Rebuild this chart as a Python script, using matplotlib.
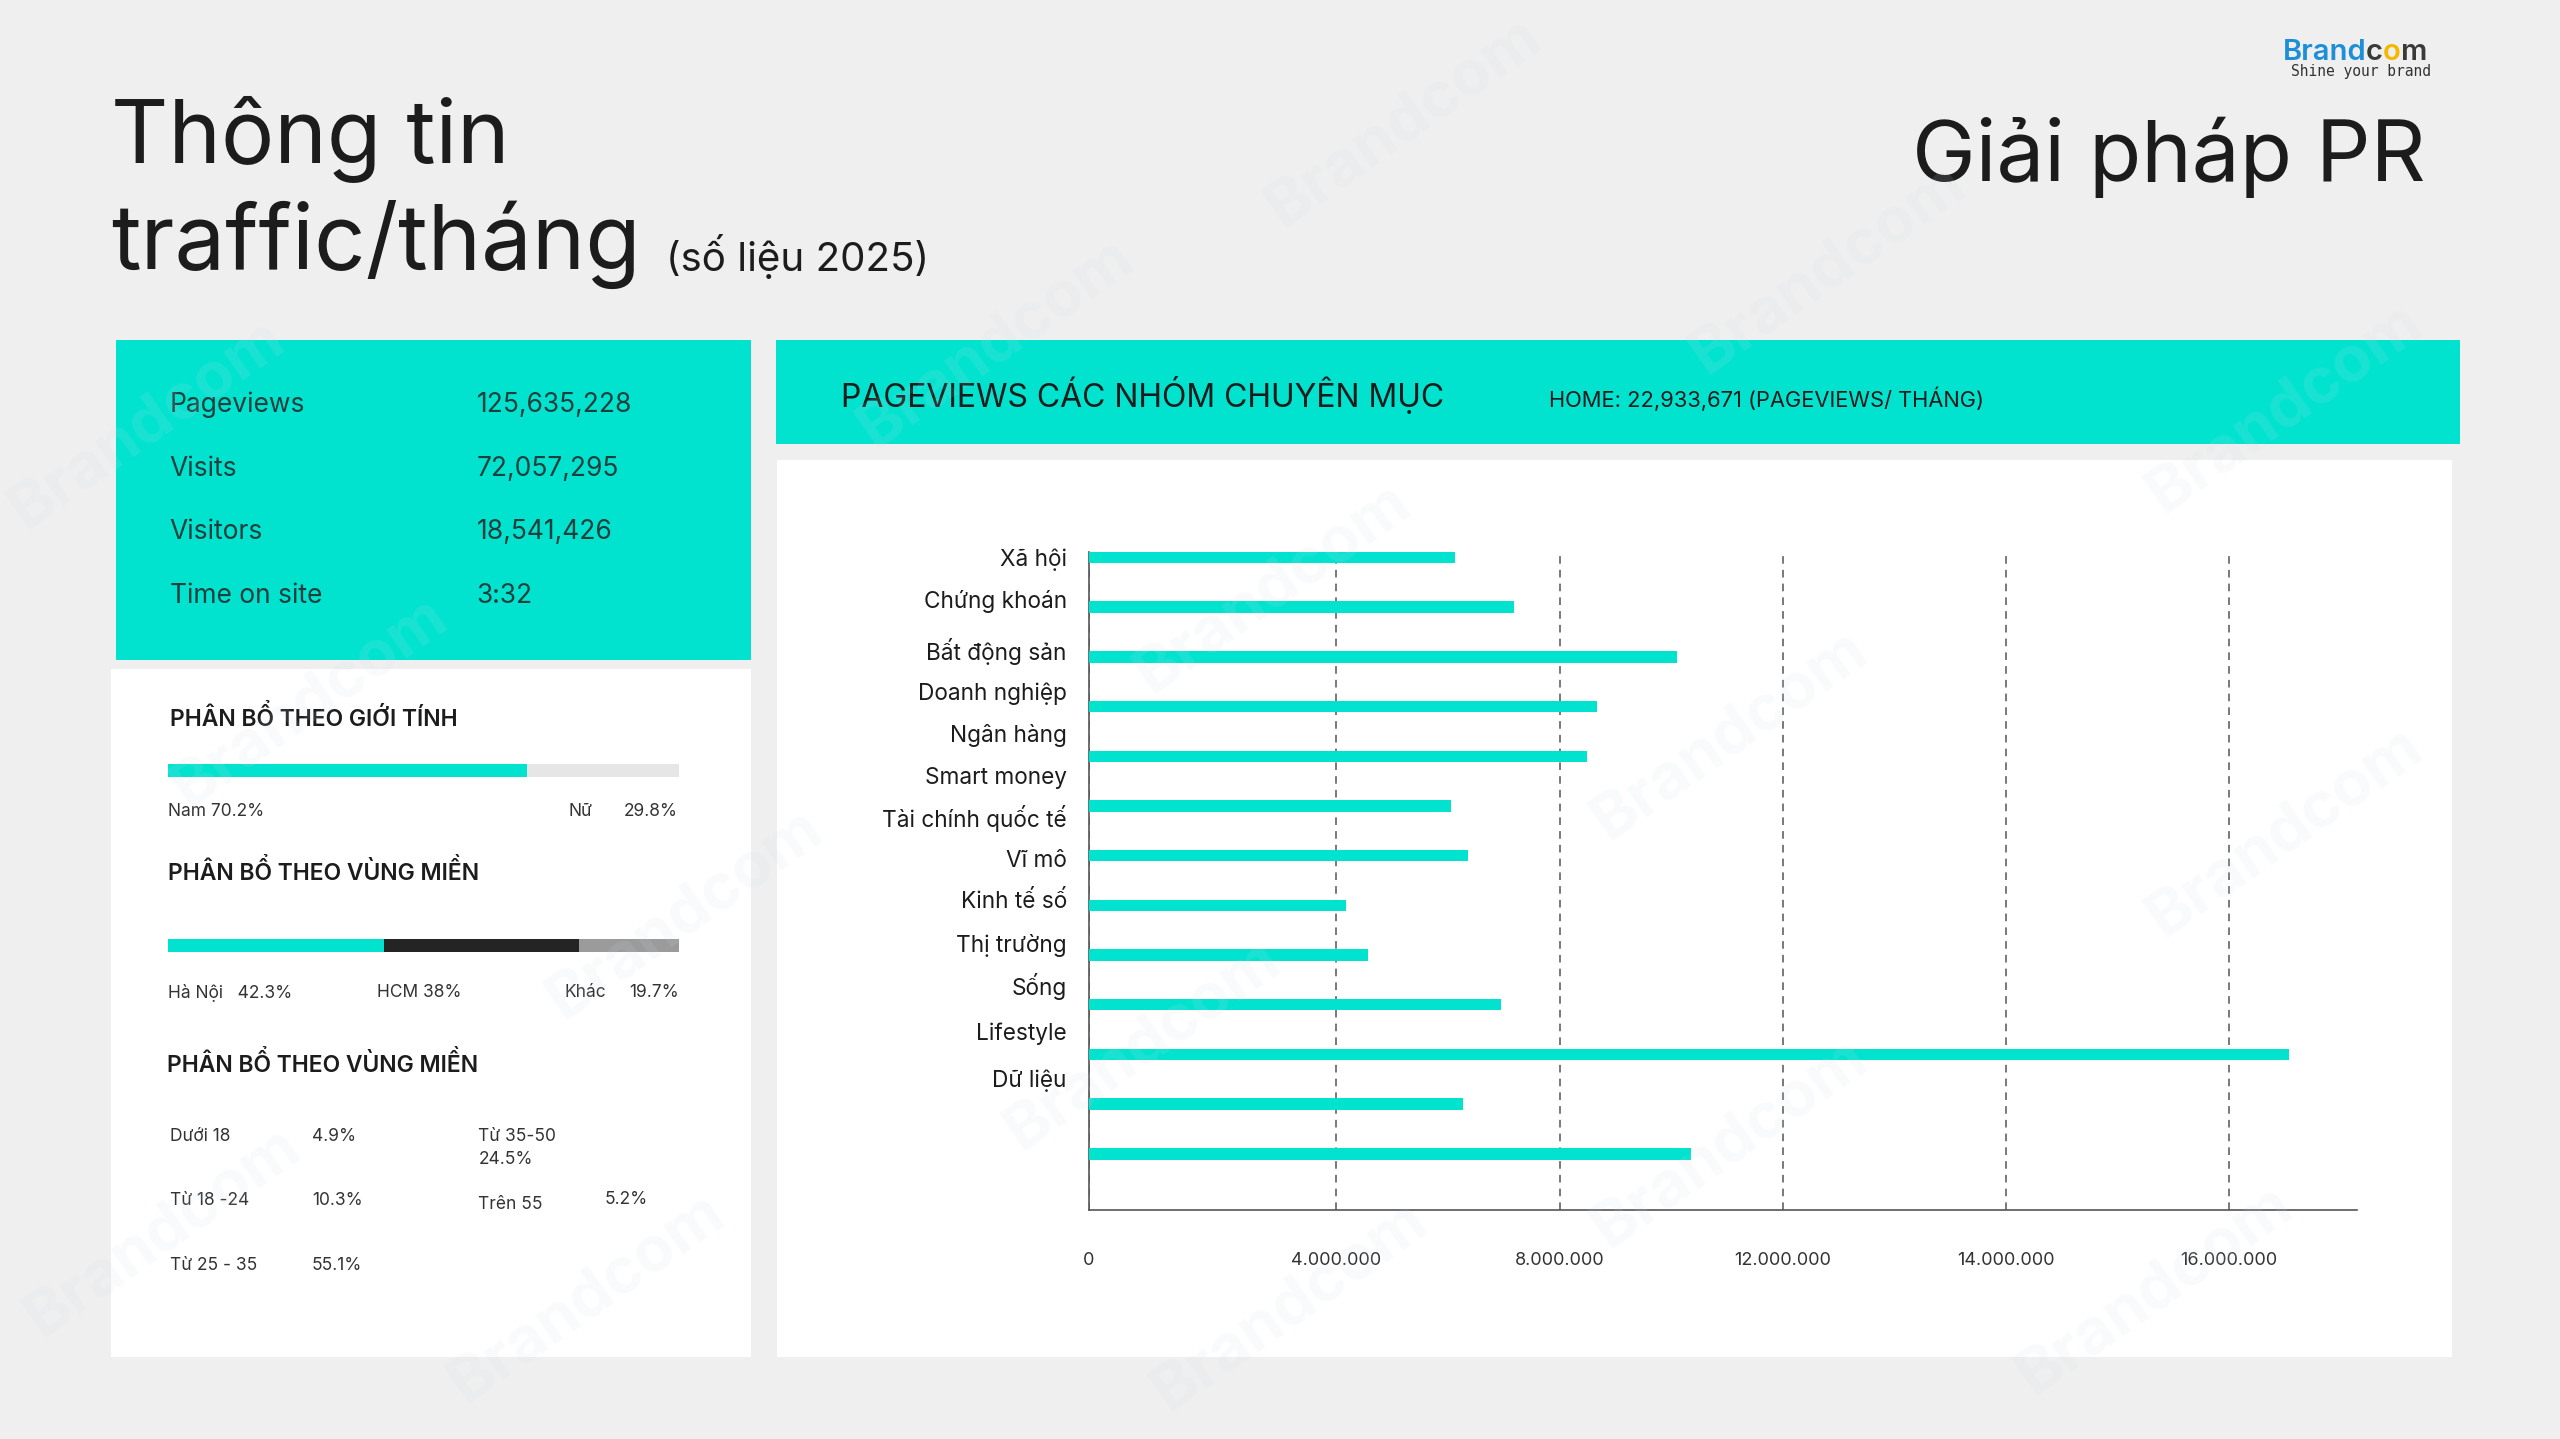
import matplotlib
matplotlib.use("Agg")
import matplotlib.pyplot as plt
from matplotlib.patches import Rectangle
from matplotlib.transforms import ScaledTranslation

plt.rcParams['font.family'] = ['Inter', 'DejaVu Sans']

# ---- data ----
categories = ["Xã hội", "Chứng khoán", "Bất động sản", "Doanh nghiệp", "Ngân hàng",
              "Smart money", "Tài chính quốc tế", "Vĩ mô", "Kinh tế số", "Thị trường",
              "Sống", "Lifestyle", "Dữ liệu"]
# 13 bars (one more bar than labels in the source)
pageviews = [6.57e6, 7.62e6, 10.54e6, 9.12e6, 8.93e6, 6.50e6, 6.79e6,
             4.61e6, 5.00e6, 7.39e6, 21.53e6, 6.71e6, 10.79e6]
x_tick_labels = ["0", "4.000.000", "8.000.000", "12.000.000", "14.000.000", "16.000.000"]

summary_labels = ["Pageviews", "Visits", "Visitors", "Time on site"]
summary_values = ["125,635,228", "72,057,295", "18,541,426", "3:32"]

gender_labels = ["Nam", "Nữ"]
gender_share = [70.2, 29.8]

region_labels = ["Hà Nội", "HCM", "Khác"]
region_share = [42.3, 38, 19.7]

age_labels = ["Dưới 18", "Từ 18 -24", "Từ 25 - 35", "Từ 35-50", "Trên 55"]
age_share = ["4.9%", "10.3%", "55.1%", "24.5%", "5.2%"]

home_pageviews = "22,933,671"

TEAL = '#02e3cf'
BG = '#efefef'
W, H = 1568.0, 881.4   # layout grid (reference pixels / 1.633)


def box(x0, y0, x1, y1):
    return [x0 / W, 1 - y1 / H, (x1 - x0) / W, (y1 - y0) / H]


def txt(x, y, s, **kw):
    return fig.text(x / W, 1 - y / H, s, **kw)


fig = plt.figure(figsize=(25.6, 14.39), dpi=100)
fig.patch.set_facecolor(BG)

# panels
for (x0, y0, x1, y1, c) in [(71, 208, 460, 404, TEAL), (68, 410, 460, 831, 'white'),
                            (475, 208, 1507, 272, TEAL), (476, 282, 1502, 831, 'white')]:
    l, b, w, h = box(x0, y0, x1, y1)
    fig.patches.append(Rectangle((l, b), w, h, transform=fig.transFigure,
                                 facecolor=c, edgecolor='none', zorder=0))

# faint watermarks
for (wx, wy) in [(860, 75), (1120, 165), (1400, 250), (610, 210), (90, 260), (190, 430),
                 (420, 560), (780, 360), (1060, 450), (1400, 510), (360, 795),
                 (700, 640), (1060, 700), (1320, 790), (790, 800), (100, 755)]:
    txt(wx, wy, "Brandcom", fontsize=46, fontweight='bold', color='#c9dcec',
        alpha=0.12, rotation=35, ha='center', va='center', zorder=5)

# titles
txt(68, 100, "Thông tin", fontsize=64, color='#1c1c1c', va='baseline')
txt(68, 165, "traffic/tháng", fontsize=65, color='#1c1c1c', va='baseline')
txt(408, 166, "(số liệu 2025)", fontsize=29, color='#1c1c1c', va='baseline')
txt(1486, 111, "Giải pháp PR", fontsize=61.5, color='#1c1c1c', va='baseline', ha='right')

# logo
r = fig.canvas.get_renderer()
lx = 1398 / W
for s, c in [("Brand", '#1d8fd8'), ("c", '#3a3a3a'), ("o", '#f5b700'), ("m", '#3a3a3a')]:
    t = fig.text(lx, 1 - 37 / H, s, fontsize=21, fontweight='semibold', color=c, va='baseline')
    lx = t.get_window_extent(r).x1 / fig.bbox.width
txt(1446, 44, "Shine your brand", fontsize=10.5, family='DejaVu Sans Mono',
    color='#333333', ha='center', va='center')

# summary box
for i, (lab, val) in enumerate(zip(summary_labels, summary_values)):
    y = 248 + i * 39
    txt(104, y, lab, fontsize=19, color='#1f3f3d', va='center')
    txt(292, y, val, fontsize=19, color='#1f3f3d', va='center')

# gender
txt(104, 440, "PHÂN BỔ THEO GIỚI TÍNH", fontsize=16.5, fontweight='semibold',
    color='#1c1c1c', va='center')
axg = fig.add_axes(box(103, 468, 416, 476), zorder=2)
axg.barh([0], [gender_share[0]], color=TEAL, height=1)
axg.barh([0], [gender_share[1]], left=[gender_share[0]], color='#e6e6e6', height=1)
axg.set_xlim(0, 100)
axg.set_ylim(-0.5, 0.5)
axg.axis('off')
txt(103, 497, f"{gender_labels[0]} {gender_share[0]}%", fontsize=12.5, color='#333', va='center')
txt(348, 497, gender_labels[1], fontsize=12.5, color='#333', va='center')
txt(415, 497, f"{gender_share[1]}%", fontsize=12.5, color='#333', va='center', ha='right')

# region
txt(103, 534, "PHÂN BỔ THEO VÙNG MIỀN", fontsize=16.5, fontweight='semibold',
    color='#1c1c1c', va='center')
axr = fig.add_axes(box(103, 575, 416, 583), zorder=2)
left = 0
for share, c in zip(region_share, [TEAL, '#242424', '#9b9b9b']):
    axr.barh([0], [share], left=[left], color=c, height=1)
    left += share
axr.set_xlim(0, 100)
axr.set_ylim(-0.5, 0.5)
axr.axis('off')
txt(103, 608, f"{region_labels[0]}   {region_share[0]}%", fontsize=12.5, color='#333', va='center')
txt(231, 608, f"{region_labels[1]} {region_share[1]}%", fontsize=12.5, color='#333', va='center')
txt(346, 608, region_labels[2], fontsize=12.5, color='#333', va='center')
txt(416, 608, f"{region_share[2]}%", fontsize=12.5, color='#333', va='center', ha='right')

# age
txt(102, 652, "PHÂN BỔ THEO VÙNG MIỀN", fontsize=16.5, fontweight='semibold',
    color='#1c1c1c', va='center')
for i in range(3):
    y = 696 + i * 39.5
    txt(104, y, age_labels[i], fontsize=12.5, color='#333', va='center')
    txt(191, y, age_share[i], fontsize=12.5, color='#333', va='center')
txt(293, 696, age_labels[3], fontsize=12.5, color='#333', va='center')
txt(293, 710, age_share[3], fontsize=12.5, color='#333', va='center')
txt(293, 738, age_labels[4], fontsize=12.5, color='#333', va='center')
txt(370, 735, age_share[4], fontsize=12.5, color='#333', va='center')

# header band
txt(515, 242, "PAGEVIEWS CÁC NHÓM CHUYÊN MỤC", fontsize=23, color='#1c1c1c', va='center')
txt(949, 244, f"HOME: {home_pageviews} (PAGEVIEWS/ THÁNG)", fontsize=15.8, color='#1c1c1c',
    va='center')

# main bar chart
ax = fig.add_axes(box(667, 338.1, 1443.5, 741.1), zorder=2)
ax.set_facecolor('none')
ypos = list(range(len(pageviews)))
ax.barh(ypos, pageviews, height=0.23, color=TEAL, zorder=3)
ax.set_ylim(13.13, -0.11)
ax.set_xlim(0, 22.74e6)
label_pos = [0, 0.84, 1.84, 2.70, 3.53, 4.39, 5.21, 6.06, 6.89, 7.75, 8.58, 9.53, 10.49]
ax.set_yticks(label_pos)
ax.set_yticklabels(categories, fontsize=16.3, color='#1c1c1c')
ax.set_xticks([0, 4.43e6, 8.45e6, 12.45e6, 16.45e6, 20.45e6])
ax.set_xticklabels(x_tick_labels, fontsize=13, color='#333')
shift = ScaledTranslation(-8 / 100, 0, fig.dpi_scale_trans)
for lab in ax.get_xticklabels():
    lab.set_transform(lab.get_transform() + shift)
ax.tick_params(length=0)
ax.tick_params(axis='x', pad=30)
ax.tick_params(axis='y', pad=16)
ax.xaxis.grid(True, linestyle=(0, (5, 4)), color='#555555', linewidth=1.1, zorder=1)
for s in ['top', 'right']:
    ax.spines[s].set_visible(False)
for s in ['left', 'bottom']:
    ax.spines[s].set_color('#555555')
    ax.spines[s].set_linewidth(1.2)
ax.set_axisbelow(True)

fig.savefig("out.png", dpi=100, facecolor=BG)
